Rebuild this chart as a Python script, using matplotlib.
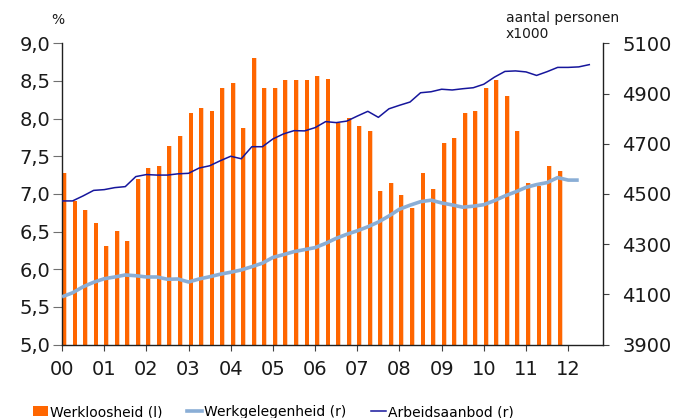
import numpy as np
import matplotlib.pyplot as plt
from matplotlib.patches import Patch
from matplotlib.lines import Line2D

# quarterly data 2000Q1 ...
years = ['00', '01', '02', '03', '04', '05', '06', '07', '08', '09', '10', '11', '12']

# werkloosheid in % (left axis)
werkloosheid = [7.28, 6.91, 6.78, 6.62, 6.31, 6.51, 6.37, 7.20, 7.34, 7.37,
                7.64, 7.77, 8.07, 8.14, 8.10, 8.41, 8.47, 7.87, 8.80, 8.41,
                8.41, 8.51, 8.51, 8.51, 8.57, 8.53, 7.94, 8.01, 7.90, 7.84,
                7.04, 7.14, 6.98, 6.81, 7.28, 7.07, 7.68, 7.74, 8.07, 8.10,
                8.41, 8.51, 8.30, 7.84, 7.14, 7.11, 7.37, 7.30]

# werkgelegenheid, x1000 personen (right axis)
werkgelegenheid = [4090, 4106, 4130, 4148, 4162, 4169, 4177, 4174, 4169, 4169,
                   4160, 4161, 4149, 4161, 4170, 4180, 4188, 4197, 4210, 4224,
                   4247, 4258, 4270, 4278, 4286, 4303, 4323, 4339, 4353, 4369,
                   4388, 4412, 4439, 4455, 4469, 4475, 4464, 4456, 4447, 4451,
                   4457, 4473, 4492, 4508, 4526, 4537, 4545, 4565, 4555, 4555]

# arbeidsaanbod, x1000 personen (right axis)
arbeidsaanbod = [4472, 4472, 4492, 4514, 4517, 4525, 4529, 4569, 4577, 4575,
                 4575, 4580, 4582, 4603, 4612, 4632, 4650, 4640, 4688, 4688,
                 4719, 4739, 4752, 4751, 4764, 4788, 4784, 4790, 4810, 4829,
                 4805, 4839, 4853, 4866, 4903, 4907, 4917, 4914, 4919, 4923,
                 4937, 4965, 4988, 4990, 4986, 4972, 4987, 5004, 5004, 5006,
                 5015]

orange = '#ff6600'
lightblue = '#8aaed6'
darkblue = '#16169c'
txt = '#1a1a1a'

plt.rcParams['font.family'] = 'DejaVu Sans'

fig = plt.figure(figsize=(6.77, 4.18), dpi=100)
ax = fig.add_axes([62/677, 1-344.5/418, (603-62)/677, (344.5-43.3)/418])
ax2 = ax.twinx()

xs = np.arange(len(werkloosheid))
# light shadow behind each bar
ax.bar(xs + 0.06, werkloosheid, width=0.40, align='edge', color='#fbd3b8', zorder=1)
ax.bar(xs, werkloosheid, width=0.38, align='edge', color=orange, zorder=2)

ax2.plot(np.arange(len(werkgelegenheid)), werkgelegenheid, color=lightblue, lw=2.6,
         solid_capstyle='butt')
ax2.plot(np.arange(len(arbeidsaanbod)), arbeidsaanbod, color=darkblue, lw=1.1)

ax.set_xlim(0, 51.3)
ax.set_ylim(5, 9)
ax2.set_ylim(3900, 5100)

ax.set_xticks(np.arange(0, 49, 4))
ax.set_xticklabels(years)
yt = np.arange(5, 9.01, 0.5)
ax.set_yticks(yt)
ax.set_yticklabels([('%.1f' % v).replace('.', ',') for v in yt])
ax2.set_yticks(np.arange(3900, 5101, 200))

ax.tick_params(axis='y', length=6.3, pad=2, labelsize=14, color='#707070', labelcolor=txt)
ax.tick_params(axis='x', length=4, pad=7, labelsize=14, color='#404040', labelcolor=txt)
ax2.tick_params(axis='y', length=4.3, pad=9.5, labelsize=14, color='#404040', labelcolor=txt)

for a in (ax, ax2):
    a.spines['top'].set_visible(False)
    for s in a.spines.values():
        s.set_color('#202020')
        s.set_linewidth(1)
ax.spines['right'].set_visible(False)
ax2.spines['left'].set_visible(False)
ax2.spines['bottom'].set_visible(False)

fig.text(58/677, 1-20/418, '%', ha='center', va='center', fontsize=10, color=txt)
fig.text(506/677, 1-11/418, 'aantal personen\nx1000', ha='left', va='top',
         fontsize=10, linespacing=1.15, color=txt)

handles = [Patch(facecolor=orange, edgecolor='none'),
           Line2D([], [], color=lightblue, lw=2.6),
           Line2D([], [], color=darkblue, lw=1.1)]
labels = ['Werkloosheid (l)', 'Werkgelegenheid (r)', 'Arbeidsaanbod (r)']
fig.legend(handles, labels, loc='center left', bbox_to_anchor=(33/677, 1-412/418),
           ncol=3, frameon=False, fontsize=10, handlelength=1.05, handleheight=0.65,
           handletextpad=0.15, columnspacing=1.8, borderpad=0, borderaxespad=0)

plt.savefig('out.png', dpi=100)
